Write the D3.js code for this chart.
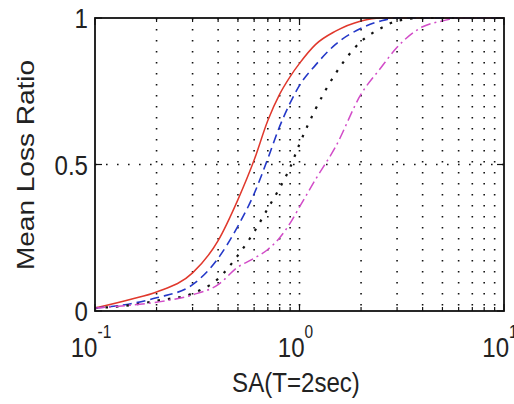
<!DOCTYPE html>
<html>
<head>
<meta charset="utf-8">
<script src="https://cdn.jsdelivr.net/npm/d3@7"></script>
<style>
    body { margin: 0; background: #fff; }
    svg text { font-family: "Liberation Sans", Arial, sans-serif; fill: #222; }
</style>
</head>
<body>
<svg width="514" height="404"></svg>
<script>
// spectral acceleration samples (g)
var sa = [0.1, 0.15, 0.2, 0.3, 0.4, 0.5, 0.6, 0.7, 0.8, 0.9, 1.0, 1.2, 1.5, 2, 2.5, 3, 4, 5, 6, 8, 10];
// mean loss ratio for each curve
var redSolid   = [0.01, 0.04, 0.065, 0.13, 0.24, 0.38, 0.515, 0.65, 0.74, 0.80, 0.845, 0.91, 0.955, 0.99, 1, 1, 1, 1, 1, 1, 1];
var blueDash   = [0.01, 0.025, 0.045, 0.09, 0.18, 0.29, 0.40, 0.52, 0.63, 0.71, 0.77, 0.84, 0.91, 0.965, 0.99, 1, 1, 1, 1, 1, 1];
var blackDot   = [0.01, 0.02, 0.035, 0.06, 0.11, 0.19, 0.27, 0.35, 0.42, 0.49, 0.57, 0.69, 0.81, 0.92, 0.965, 0.99, 1, 1, 1, 1, 1];
var magentaDD  = [0.01, 0.02, 0.03, 0.055, 0.09, 0.15, 0.18, 0.21, 0.25, 0.30, 0.355, 0.45, 0.56, 0.74, 0.83, 0.90, 0.97, 0.99, 1, 1, 1];
var yTicks = [0, 0.5, 1];
var xMajor = [0.1, 1, 10];
var xLabelExp = ["-1", "0", "1"];

var series = [
    {vals: redSolid,  color: "#e0382c", dash: null, w: 1.5},
    {vals: blueDash,  color: "#2438c8", dash: "9,5", w: 1.6},
    {vals: blackDot,  color: "#111111", dash: "2.5,8", w: 2.2},
    {vals: magentaDD, color: "#d24cc8", dash: "10,4,2,4", w: 1.5}
];

var svg = d3.select("svg");
var plotL = 95, plotR = 504, plotT = 18, plotB = 311;

var x = d3.scaleLog().domain([0.1, 10]).range([plotL, plotR]);
var y = d3.scaleLinear().domain([0, 1]).range([plotB, plotT]);

// minor + major x positions
var xAll = [];
[0.1, 1].forEach(function(d) {
    for (var k = 1; k <= 9; k++) xAll.push(+(d * k).toFixed(2));
});
xAll.push(10);

// dotted grid
var grid = svg.append("g");
grid.selectAll("line")
    .data(xAll.filter(function(d) { return d > 0.1 && d < 10; }))
    .enter().append("line")
    .attr("x1", function(d) { return x(d); })
    .attr("x2", function(d) { return x(d); })
    .attr("y1", plotT).attr("y2", plotB)
    .attr("stroke", "#111")
    .attr("stroke-width", 1.6)
    .attr("stroke-dasharray", "1.6,9.4");
grid.append("line")
    .attr("x1", plotL).attr("x2", plotR)
    .attr("y1", y(0.5)).attr("y2", y(0.5))
    .attr("stroke", "#111")
    .attr("stroke-width", 1.6)
    .attr("stroke-dasharray", "1.6,9.4");

// curves
var line = d3.line()
    .x(function(d) { return x(d[0]); })
    .y(function(d) { return y(d[1]); })
    .curve(d3.curveMonotoneX);

series.forEach(function(s) {
    var pts = sa.map(function(v, i) { return [v, s.vals[i]]; });
    svg.append("path")
        .datum(pts)
        .attr("d", line)
        .attr("fill", "none")
        .attr("stroke", s.color)
        .attr("stroke-width", s.w)
        .attr("stroke-dasharray", s.dash);
});

// frame
svg.append("rect")
    .attr("x", plotL).attr("y", plotT)
    .attr("width", plotR - plotL).attr("height", plotB - plotT)
    .attr("fill", "none")
    .attr("stroke", "#111")
    .attr("stroke-width", 1.8);

// ticks inside the frame
var tk = svg.append("g").attr("stroke", "#111").attr("stroke-width", 1.2);
xAll.forEach(function(d) {
    var len = xMajor.indexOf(d) >= 0 ? 7 : 4;
    tk.append("line").attr("x1", x(d)).attr("x2", x(d)).attr("y1", plotB).attr("y2", plotB - len);
    tk.append("line").attr("x1", x(d)).attr("x2", x(d)).attr("y1", plotT).attr("y2", plotT + len);
});
yTicks.forEach(function(d) {
    tk.append("line").attr("x1", plotL).attr("x2", plotL + 7).attr("y1", y(d)).attr("y2", y(d));
    tk.append("line").attr("x1", plotR).attr("x2", plotR - 7).attr("y1", y(d)).attr("y2", y(d));
});

// y tick labels
svg.selectAll("text.yl")
    .data(yTicks)
    .enter().append("text")
    .attr("class", "yl")
    .attr("transform", function(d) { return "translate(88," + (y(d) + 10) + ") scale(0.86,1)"; })
    .attr("text-anchor", "end")
    .style("font-size", "28px")
    .text(function(d) { return d3.format("")(d); });

// x tick labels: 10 with superscript exponent
xMajor.forEach(function(d, i) {
    var t = svg.append("text")
        .attr("transform", "translate(" + (x(d) - 4) + ",357) scale(0.86,1)")
        .attr("text-anchor", "middle")
        .style("font-size", "28px");
    t.append("tspan").text("10");
    t.append("tspan")
        .attr("dy", -19)
        .style("font-size", "18px")
        .text(xLabelExp[i]);
});

// axis titles
svg.append("text")
    .attr("transform", "translate(296,392) scale(0.86,1)")
    .attr("text-anchor", "middle")
    .style("font-size", "28px")
    .text("SA(T=2sec)");

svg.append("text")
    .attr("transform", "translate(34,165) rotate(-90) scale(1,0.86)")
    .attr("text-anchor", "middle")
    .style("font-size", "28px")
    .text("Mean Loss Ratio");
</script>
</body>
</html>
